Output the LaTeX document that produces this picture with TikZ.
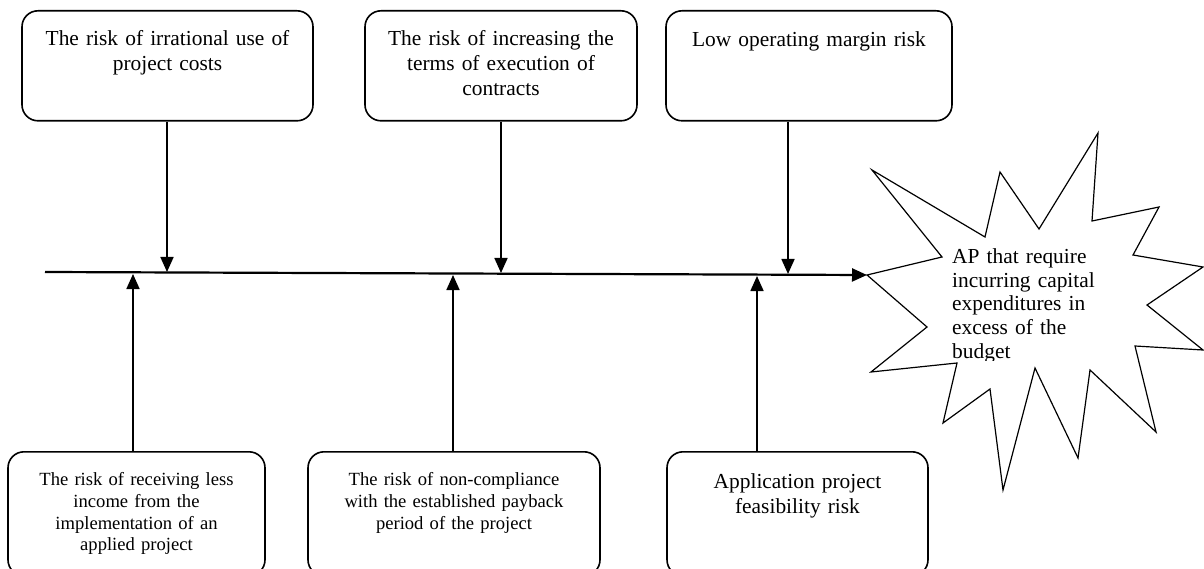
\documentclass[tikz,border=0pt]{standalone}
\usepackage{fontspec}
\setmainfont{Liberation Serif}
\usetikzlibrary{arrows.meta}

\newcommand{\bigsize}{\fontsize{21.4pt}{25pt}\selectfont}
\newcommand{\smallsize}{\fontsize{18.6pt}{21.6pt}\selectfont}

\tikzset{
  >={Triangle[length=15pt, width=13pt]},
  riskbox/.style={draw, line width=1.6pt, rounded corners=16pt, inner sep=0pt, align=center, anchor=north},
  topbox/.style={riskbox, font=\bigsize, text height=35pt, text depth=75pt},
  lowbox/.style={riskbox, font=\smallsize, text height=34pt, text depth=90pt},
  goaltext/.style={font=\fontsize{21.4pt}{23.5pt}\selectfont, align=left, text width=170pt, inner sep=0pt, anchor=base west},
  link/.style={line width=1.7pt},
  spine/.style={line width=2.2pt},
  burst/.style={line width=1.2pt, fill=white},
}

\begin{document}
\begin{tikzpicture}[x=1pt, y=-1pt]
      \useasboundingbox (0,0) rectangle (1204,569);

      % Risk factors
      \node[topbox, text width=291pt] (costs) at (167.5, 10) {The risk of irrational use of\\project costs};
      \node[topbox, text width=272pt] (terms) at (501, 10) {The risk of increasing the\\terms of execution of\\contracts};
      \node[topbox, text width=286pt, text height=36pt, text depth=74pt] (margin) at (809, 10) {Low operating margin risk};
      \node[lowbox, text width=257pt] (income) at (136.5, 451) {The risk of receiving less\\income from the\\implementation of an\\applied project};
      \node[lowbox, text width=292pt] (payback) at (454, 451) {The risk of non-compliance\\with the established payback\\period of the project};
      \node[lowbox, font=\bigsize, text width=261pt, text height=37pt, text depth=87pt] (feasibility) at (797.5, 451) {Application project\\feasibility risk};

      % Result
      \coordinate (tip) at (867, 275);
      \draw[burst] (tip) -- (942,257) -- (872,170) -- (985,237) -- (1000,172)
        -- (1039,229) -- (1098,133) -- (1092,221) -- (1159,207) -- (1133,255)
        -- (1203,267) -- (1147,305) -- (1203,350) -- (1135,346) -- (1156,432)
        -- (1090,370) -- (1078,458) -- (1035,368) -- (1003,490) -- (990,389)
        -- (943,423) -- (957,363) -- (871,372) -- (927,327) -- cycle;
      \begin{scope}
        \clip (940,235) rectangle (1120,360);
        \node[goaltext] (goal) at (952, 264) {AP that require\\incurring capital\\expenditures in\\excess of the\\budget};
      \end{scope}

      % Spine
      \coordinate (tail) at (45, 272);
      \coordinate (j1) at (167, 272);
      \coordinate (j2) at (501, 273);
      \coordinate (j3) at (788, 274);
      \coordinate (j4) at (133, 274);
      \coordinate (j5) at (453, 275);
      \coordinate (j6) at (757, 276);
      \draw[spine, ->] (tail) -- (tip);

      % Edges
      \draw[link, ->] (costs.south -| j1) -- (j1);
      \draw[link, ->] (terms.south -| j2) -- (j2);
      \draw[link, ->] (margin.south -| j3) -- (j3);
      \draw[link, ->] (income.north -| j4) -- (j4);
      \draw[link, ->] (payback.north -| j5) -- (j5);
      \draw[link, ->] (feasibility.north -| j6) -- (j6);

    \end{tikzpicture}
\end{document}
